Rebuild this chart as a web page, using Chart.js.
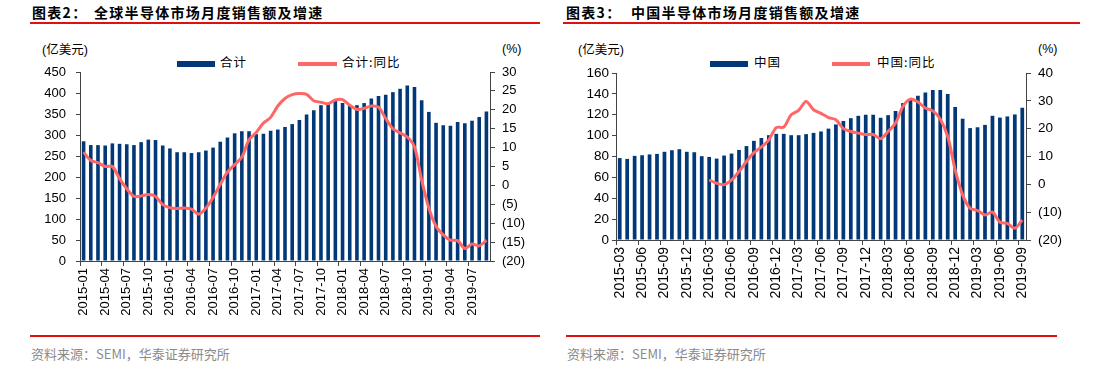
<!DOCTYPE html>
<html>
<head>
<meta charset="utf-8">
<script src="https://cdn.jsdelivr.net/npm/chart.js@4.4.0/dist/chart.umd.min.js"></script>
<style>
  body { margin: 0; background: #fff; width: 1112px; height: 389px; position: relative; overflow: hidden; font-family: "Liberation Sans", "Noto Sans CJK SC", sans-serif; }
  .t { position: absolute; white-space: nowrap; line-height: 1; color: #000; }
  .title { font-family: "Noto Sans CJK SC"; font-weight: bold; font-size: 14px; letter-spacing: 1.3px; top: 5px; }
  .rule { position: absolute; height: 2px; background: #e01010; }
  .unit { font-size: 12.5px; top: 43px; }
  .unit .cjk { font-family: "Noto Sans CJK SC"; }
  .leg { font-family: "Noto Sans CJK SC"; font-size: 12.5px; top: 56px; letter-spacing: 1px; }
  .src { font-family: "Noto Sans CJK SC"; font-size: 13px; color: #8a8a8a; top: 347px; }
  .swb { position: absolute; height: 6px; top: 61px; background: #003878; }
  .swl { position: absolute; height: 4px; top: 62px; background: #ff6666; }
  canvas { position: absolute; top: 40px; }
</style>
</head>
<body>
<div class="t title" style="left:32px">图表2：</div>
<div class="t title" style="left:94px">全球半导体市场月度销售额及增速</div>
<div class="rule" style="left:30px; width:510px; top:22px"></div>
<div class="t unit" style="left:42px"><span>(</span><span class="cjk">亿美元</span><span>)</span></div>
<div class="t unit" style="left:502px">(%)</div>
<div class="swb" style="left:177px; width:38px"></div>
<div class="t leg" style="left:220px">合计</div>
<div class="swl" style="left:298px; width:39px"></div>
<div class="t leg" style="left:342px">合计:同比</div>
<div class="rule" style="left:30px; width:510px; top:335px"></div>
<div class="t src" style="left:31px">资料来源：SEMI，华泰证券研究所</div>

<div class="t title" style="left:566px">图表3：</div>
<div class="t title" style="left:631px">中国半导体市场月度销售额及增速</div>
<div class="rule" style="left:563px; width:517px; top:22px"></div>
<div class="t unit" style="left:578px"><span>(</span><span class="cjk">亿美元</span><span>)</span></div>
<div class="t unit" style="left:1038px">(%)</div>
<div class="swb" style="left:710px; width:38px"></div>
<div class="t leg" style="left:754px">中国</div>
<div class="swl" style="left:832px; width:38px"></div>
<div class="t leg" style="left:877px">中国:同比</div>
<div class="rule" style="left:566px; width:491px; top:335px"></div>
<div class="t src" style="left:567px">资料来源：SEMI，华泰证券研究所</div>

<canvas id="globalChart" width="556" height="290" style="left:0px"></canvas>
<canvas id="chinaChart" width="556" height="290" style="left:556px"></canvas>

<script>
const globalMonths = [
  '2015-01', '2015-02', '2015-03', '2015-04', '2015-05', '2015-06', '2015-07', '2015-08', '2015-09', '2015-10', '2015-11', '2015-12',
  '2016-01', '2016-02', '2016-03', '2016-04', '2016-05', '2016-06', '2016-07', '2016-08', '2016-09', '2016-10', '2016-11', '2016-12',
  '2017-01', '2017-02', '2017-03', '2017-04', '2017-05', '2017-06', '2017-07', '2017-08', '2017-09', '2017-10', '2017-11', '2017-12',
  '2018-01', '2018-02', '2018-03', '2018-04', '2018-05', '2018-06', '2018-07', '2018-08', '2018-09', '2018-10', '2018-11', '2018-12',
  '2019-01', '2019-02', '2019-03', '2019-04', '2019-05', '2019-06', '2019-07', '2019-08', '2019-09'
]
// 合计 (亿美元)
const globalSales = [
  285, 276, 276, 275, 280, 279, 278, 276, 283, 289, 288, 275,
  268, 259, 259, 257, 259, 263, 270, 284, 294, 304, 309, 309,
  302, 303, 310, 313, 319, 326, 336, 349, 359, 371, 373, 381,
  376, 370, 371, 376, 387, 393, 396, 402, 410, 418, 414, 383,
  355, 329, 323, 322, 331, 328, 334, 343, 356
]
// 合计:同比 (%)
const globalYoY = [
  8.8, 6.6, 6.0, 5.0, 5.0, 1.8, -0.9, -2.9, -2.8, -2.4, -2.9, -5.1,
  -5.9, -6.1, -6.0, -6.3, -7.6, -6.0, -3.2, 0.3, 3.5, 5.5, 7.5, 12.1,
  14.0, 16.5, 18.0, 21.0, 23.0, 24.0, 24.3, 24.1, 22.4, 22.0, 21.6, 22.6,
  22.7, 21.2, 20.1, 20.4, 21.0, 20.7, 17.7, 15.0, 13.9, 12.8, 10.2, 1.4,
  -6.0, -10.8, -13.1, -14.5, -14.6, -16.7, -15.5, -16.0, -14.5
]

// china series starts 2015-03
const chinaMonths = globalMonths.slice(2)
// 中国 (亿美元)
const chinaSales = [
  78.5, 77.7, 80.6, 81.2, 82.0, 82.5, 84.5, 86.0, 87.0, 84.5,
  84.1, 80.3, 79.6, 78.0, 80.9, 82.8, 86.3, 90.0, 95.0, 97.7, 100.4, 101.7,
  101.7, 100.4, 100.4, 101.4, 102.6, 104.0, 106.7, 110.7, 114.0, 116.7, 119.0, 120.0,
  120.0, 117.1, 119.6, 123.7, 131.2, 135.0, 138.2, 141.4, 143.7, 143.7, 140.0, 127.4,
  116.2, 107.2, 108.0, 110.3, 119.0, 117.3, 118.4, 120.3, 126.7
]
// 中国:同比 (%), no data before 2016-03
const chinaYoY = [
  null, null, null, null, null, null, null, null, null, null,
  null, null, 1.6, 0.4, -0.1, 1.6, 4.6, 8.2, 11.4, 13.4, 16.0, 20.4,
  20.6, 25.0, 26.6, 29.8, 26.8, 25.5, 24.0, 23.2, 20.0, 19.0, 18.4, 17.9,
  17.9, 16.4, 19.0, 22.0, 28.0, 30.6, 29.6, 27.4, 26.4, 23.4, 17.2, 5.2,
  -3.8, -8.6, -9.4, -11.0, -10.0, -13.6, -14.0, -15.8, -12.8
]

const globalLeftTicks = { min: 0, max: 450, step: 50 }
const globalRightTicks = { min: -20, max: 30, step: 5 }
const chinaLeftTicks = { min: 0, max: 160, step: 20 }
const chinaRightTicks = { min: -20, max: 40, step: 10 }

const axisColor = '#444'

function pctLabel(v) {
  return v < 0 ? '(' + (-v) + ')' : '' + v
}

function drawChart(id, labels, bars, line, left, right, box) {
  const ctx = document.getElementById(id).getContext('2d')
  return new Chart(ctx, {
    data: {
      labels: labels,
      datasets: [
        {
          type: 'line',
          data: line,
          yAxisID: 'y1',
          borderColor: '#ff6666',
          borderWidth: 3,
          pointRadius: 0,
          tension: 0.3,
          order: 0
        },
        {
          type: 'bar',
          data: bars,
          yAxisID: 'y',
          backgroundColor: '#003878',
          barPercentage: 0.5,
          categoryPercentage: 1,
          order: 1
        }
      ]
    },
    options: {
      responsive: false,
      animation: false,
      layout: { padding: { top: box.top, left: 0, right: 0, bottom: 0 } },
      plugins: { legend: { display: false }, tooltip: { enabled: false } },
      scales: {
        x: {
          type: 'category',
          offset: true,
          afterFit: (scale) => { scale.height = box.xHeight },
          grid: {
            offset: true,
            drawOnChartArea: false,
            tickLength: 5,
            tickColor: (c) => c.index % 3 === 0 ? axisColor : 'rgba(0,0,0,0)'
          },
          border: { color: axisColor },
          ticks: {
            autoSkip: false,
            maxRotation: 90,
            minRotation: 90,
            padding: 2,
            color: '#000',
            font: { family: 'Liberation Sans', size: box.xFont },
            callback: (v, i) => i % 3 === 0 ? labels[i] : ''
          }
        },
        y: {
          position: 'left',
          min: left.min,
          max: left.max,
          afterFit: (scale) => { scale.width = box.left },
          grid: { drawOnChartArea: false, tickLength: 4, color: axisColor },
          border: { color: axisColor },
          ticks: {
            stepSize: left.step,
            padding: box.leftPad,
            color: '#000',
            font: { family: 'Liberation Sans', size: box.yFont }
          }
        },
        y1: {
          position: 'right',
          min: right.min,
          max: right.max,
          afterFit: (scale) => { scale.width = box.right },
          grid: { drawOnChartArea: false, tickLength: 5, color: axisColor },
          border: { color: axisColor },
          ticks: {
            stepSize: right.step,
            padding: 7,
            color: '#000',
            font: { family: 'Liberation Sans', size: box.yFont },
            callback: pctLabel
          }
        }
      }
    }
  })
}

drawChart('globalChart', globalMonths, globalSales, globalYoY, globalLeftTicks, globalRightTicks,
  { top: 32, xHeight: 69, left: 80, right: 66, leftPad: 10, xFont: 13, yFont: 13 })
drawChart('chinaChart', chinaMonths, chinaSales, chinaYoY, chinaLeftTicks, chinaRightTicks,
  { top: 33, xHeight: 90, left: 60, right: 86, leftPad: 3, xFont: 14, yFont: 13.5 })
</script>
</body>
</html>
